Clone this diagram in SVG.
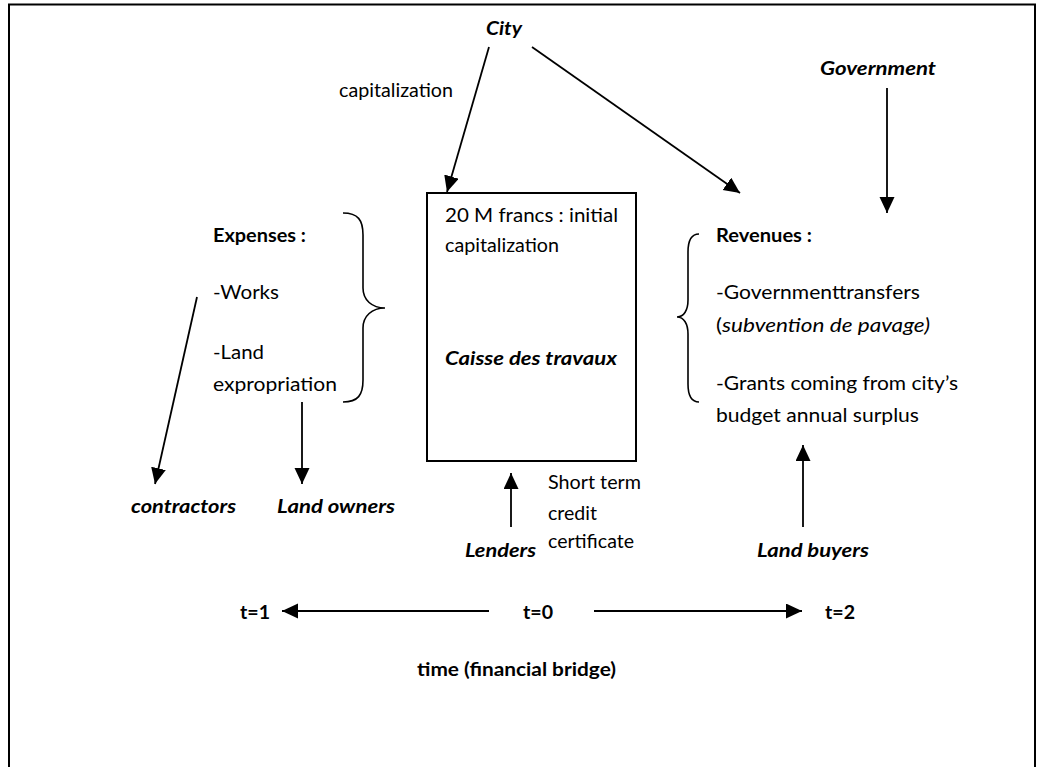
<svg xmlns="http://www.w3.org/2000/svg" width="1039" height="767" viewBox="0 0 1039 767">
  <style>
    text { font-family: Lato, "Liberation Sans", sans-serif; font-size: 19.5px; fill: #000; }
    .b { font-weight: bold; }
    .bi { font-weight: bold; font-style: italic; }
    .i { font-style: italic; }
    .ln { stroke: #000; stroke-width: 1.8; fill: none; }
    .frame { stroke: #000; stroke-width: 2; fill: none; }
    .brace { stroke: #000; stroke-width: 1.6; fill: none; }
  </style>
  <defs>
    <marker id="head" markerUnits="userSpaceOnUse" markerWidth="17" markerHeight="16" refX="16" refY="7.5" orient="auto">
      <path d="M0,0 L16,7.5 L0,15 z" fill="#000"/>
    </marker>
  </defs>

  <rect width="1039" height="767" fill="#fff"/>
  <!-- open frame: top, left and right sides -->
  <path class="frame" d="M9,767 L9,4.5 L1035,4.5 L1035,767"/>

  <!-- connectors -->
  <g id="connectors">
    <line class="ln" x1="489" y1="47" x2="447" y2="192" marker-end="url(#head)"/>
    <line class="ln" x1="532" y1="47" x2="740" y2="193" marker-end="url(#head)"/>
    <line class="ln" x1="887" y1="88" x2="887" y2="213" marker-end="url(#head)"/>
    <line class="ln" x1="197" y1="297" x2="155" y2="484" marker-end="url(#head)"/>
    <line class="ln" x1="302" y1="402" x2="302" y2="484" marker-end="url(#head)"/>
    <line class="ln" x1="511" y1="527" x2="511" y2="473" marker-end="url(#head)"/>
    <line class="ln" x1="803" y1="527" x2="803" y2="445" marker-end="url(#head)"/>
    <line class="ln" x1="489" y1="611" x2="282" y2="611" marker-end="url(#head)"/>
    <line class="ln" x1="594" y1="611" x2="802" y2="611" marker-end="url(#head)"/>
  </g>

  <g id="city">
    <text class="bi" x="486" y="35" textLength="36" lengthAdjust="spacingAndGlyphs">City</text>
  </g>
  <g id="capitalization-label">
    <text x="339" y="97" textLength="114" lengthAdjust="spacingAndGlyphs">capitalization</text>
  </g>
  <g id="government">
    <text class="bi" x="820" y="75" textLength="116" lengthAdjust="spacingAndGlyphs">Government</text>
  </g>

  <g id="caisse">
    <rect x="427" y="193" width="209" height="268" fill="none" stroke="#000" stroke-width="2"/>
    <text x="445" y="222" textLength="173" lengthAdjust="spacingAndGlyphs">20 M francs : initial</text>
    <text x="445" y="252" textLength="114" lengthAdjust="spacingAndGlyphs">capitalization</text>
    <text class="bi" x="445" y="365" textLength="172" lengthAdjust="spacingAndGlyphs">Caisse des travaux</text>
  </g>

  <g id="expenses">
    <text class="b" x="213" y="242" textLength="93" lengthAdjust="spacingAndGlyphs">Expenses :</text>
    <text x="213" y="299" textLength="66" lengthAdjust="spacingAndGlyphs">-Works</text>
    <text x="213" y="359" textLength="51" lengthAdjust="spacingAndGlyphs">-Land</text>
    <text x="213" y="391" textLength="124" lengthAdjust="spacingAndGlyphs">expropriation</text>
    <path class="brace" d="M343,213 C358,213 363,220 363,235 L363,288 C363,300 372,308 385,308 C372,308 363,316 363,328 L363,380 C363,395 358,402 343,402"/>
  </g>

  <g id="revenues">
    <path class="brace" d="M699,234 C692,234 688,240 688,252 L688,300 C688,310 684,317 677,317 C684,317 688,324 688,334 L688,384 C688,396 692,402 699,402"/>
    <text class="b" x="716" y="242" textLength="96" lengthAdjust="spacingAndGlyphs">Revenues :</text>
    <text x="716" y="299" textLength="204" lengthAdjust="spacingAndGlyphs">-Governmenttransfers</text>
    <text x="716" y="332" textLength="214" lengthAdjust="spacingAndGlyphs">(<tspan class="i">subvention de pavage)</tspan></text>
    <text x="716" y="390" textLength="242" lengthAdjust="spacingAndGlyphs">-Grants coming from city’s</text>
    <text x="716" y="422" textLength="203" lengthAdjust="spacingAndGlyphs">budget annual surplus</text>
  </g>

  <g id="contractors">
    <text class="bi" x="131" y="513" textLength="105" lengthAdjust="spacingAndGlyphs">contractors</text>
  </g>
  <g id="land-owners">
    <text class="bi" x="277" y="513" textLength="118" lengthAdjust="spacingAndGlyphs">Land owners</text>
  </g>
  <g id="lenders">
    <text class="bi" x="465" y="557" textLength="71" lengthAdjust="spacingAndGlyphs">Lenders</text>
    <text x="548" y="489" textLength="93" lengthAdjust="spacingAndGlyphs">Short term</text>
    <text x="548" y="520" textLength="49" lengthAdjust="spacingAndGlyphs">credit</text>
    <text x="548" y="548" textLength="86" lengthAdjust="spacingAndGlyphs">certificate</text>
  </g>
  <g id="land-buyers">
    <text class="bi" x="757" y="557" textLength="112" lengthAdjust="spacingAndGlyphs">Land buyers</text>
  </g>

  <g id="timeline">
    <text class="b" x="240" y="619" textLength="30" lengthAdjust="spacingAndGlyphs">t=1</text>
    <text class="b" x="523" y="619" textLength="30" lengthAdjust="spacingAndGlyphs">t=0</text>
    <text class="b" x="825" y="619" textLength="30" lengthAdjust="spacingAndGlyphs">t=2</text>
    <text class="b" x="417" y="676" textLength="199" lengthAdjust="spacingAndGlyphs">time (financial bridge)</text>
  </g>
</svg>
